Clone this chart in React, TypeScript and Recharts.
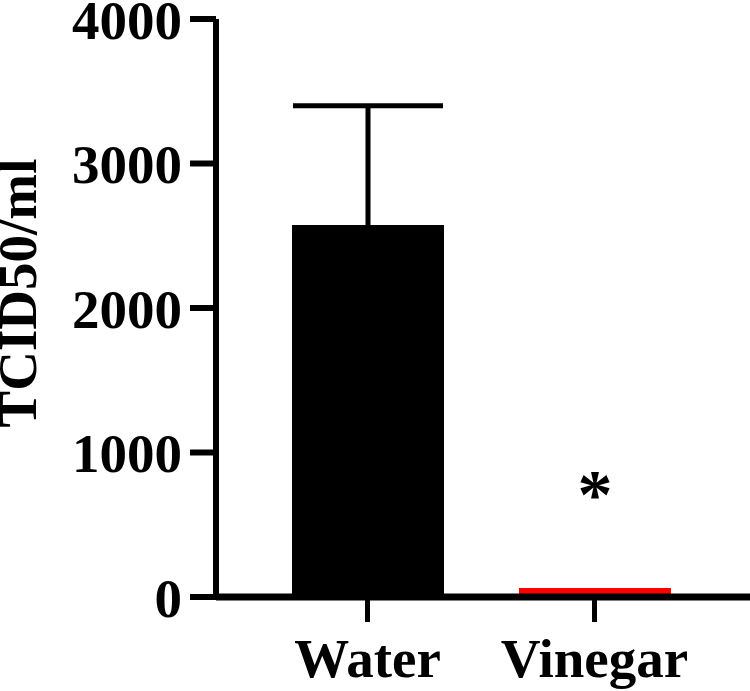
import React from 'react';
import { BarChart, Bar, XAxis, YAxis, ErrorBar, Cell, LabelList } from 'recharts';

const groups = ['Water', 'Vinegar'];
const means = [2575, 62];
const errors = [825, 0];
const marks = ['', '*'];
const colors = ['#000000', '#ff0000'];
const yTicks = [0, 1000, 2000, 3000, 4000];

const data = groups.map((g, i) => ({ name: g, value: means[i], err: errors[i], mark: marks[i] }));

const FONT = '"Liberation Serif", "Times New Roman", serif';

const XTick = (props: any) => {
  const { x, payload } = props;
  return (
    <text x={x} y={677} textAnchor="middle" fontFamily={FONT} fontWeight="bold" fontSize={55} fill="#000">
      {payload.value}
    </text>
  );
};

const YTick = (props: any) => {
  const { y, payload } = props;
  return (
    <text x={182} y={y} dy="0.355em" textAnchor="end" fontFamily={FONT} fontWeight="bold" fontSize={55} fill="#000">
      {payload.value}
    </text>
  );
};

const YLabel = () => (
  <text x={36} y={293} transform="rotate(-90, 36, 293)" textAnchor="middle" fontFamily={FONT} fontWeight="bold" fontSize={55} fill="#000">
    TCID50/ml
  </text>
);

const Star = (props: any) => {
  const { x, y, width, value } = props;
  if (!value) return null;
  return (
    <text x={x + width / 2} y={y - 70} textAnchor="middle" fontFamily={FONT} fontWeight="bold" fontSize={70} fill="#000">
      {value}
    </text>
  );
};

export default function App() {
  return (
    <div style={{ position: 'absolute', left: 0, top: 0, background: '#fff' }}>
      <BarChart width={750} height={691} data={data} margin={{ top: 19, right: 0, bottom: 0, left: 0 }}>
        <XAxis
          dataKey="name"
          height={94}
          padding={{ left: 38, right: 42 }}
          axisLine={{ stroke: '#000', strokeWidth: 7 }}
          tickLine={{ stroke: '#000', strokeWidth: 5 }}
          tickSize={25}
          tick={<XTick />}
        />
        <YAxis
          width={216}
          domain={[0, 4000]}
          ticks={yTicks}
          axisLine={{ stroke: '#000', strokeWidth: 6 }}
          tickLine={{ stroke: '#000', strokeWidth: 6 }}
          tickSize={26}
          tick={<YTick />}
          label={<YLabel />}
        />
        <Bar dataKey="value" barSize={152} isAnimationActive={false}>
          {data.map((d, i) => (
            <Cell key={d.name} fill={colors[i]} />
          ))}
          <ErrorBar dataKey="err" width={75} stroke="#000" strokeWidth={5} direction="y" />
          <LabelList dataKey="mark" content={<Star />} />
        </Bar>
      </BarChart>
    </div>
  );
}
